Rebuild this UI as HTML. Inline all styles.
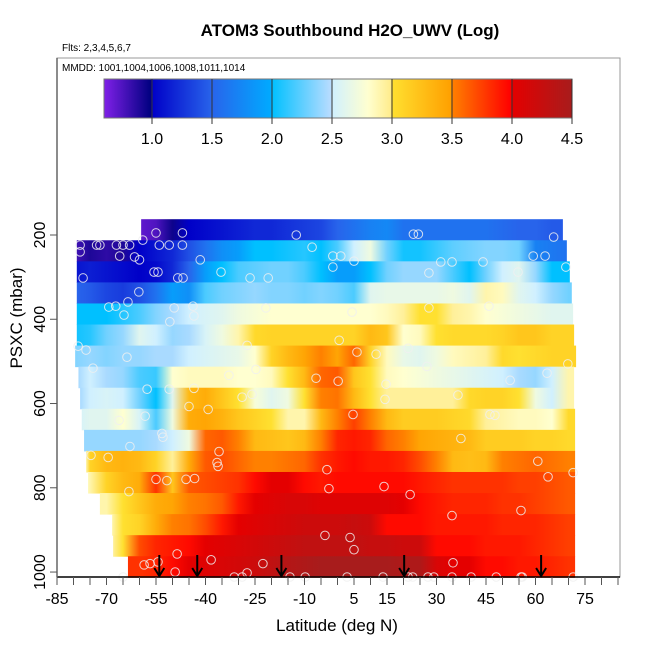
<!DOCTYPE html>
<html><head><meta charset="utf-8"><style>
body{margin:0;background:#fff;}
svg{display:block;font-family:"Liberation Sans",Arial,sans-serif;}
</style></head><body>
<svg id="chart" width="650" height="650" viewBox="0 0 650 650">
<defs id="defs"></defs>
<text x="350" y="36" text-anchor="middle" font-size="17" font-weight="bold">ATOM3 Southbound H2O_UWV (Log)</text>
<text x="62" y="51" font-size="10">Flts: 2,3,4,5,6,7</text>
<rect x="57" y="58" width="563" height="519" fill="none" stroke="#999" stroke-width="1"/>
<text x="62" y="71" font-size="10">MMDD: 1001,1004,1006,1008,1011,1014</text>
<g id="heat"></g>
<g id="pts"></g>
<g id="arrows"></g>
<g id="cbar"></g>
<g id="axes"></g>
<text x="337" y="631" text-anchor="middle" font-size="17">Latitude (deg N)</text>
<text transform="translate(22,318) rotate(-90)" text-anchor="middle" font-size="17">PSXC (mbar)</text>
</svg>
<script>
const lats=[-80,-75,-70,-65,-60,-55,-50,-45,-40,-35,-30,-25,-20,-15,-10,-5,0,5,10,15,20,25,30,35,40,45,50,55,60,65,70];
const rowPressure=[187.5,237.5,287.5,337.5,387.5,437.5,487.5,537.5,587.5,637.5,687.5,737.5,787.5,837.5,887.5,937.5,987.5];
const rowStart=[-59.5,-79,-79,-79,-79,-79,-79.5,-78.5,-78,-77.5,-76.8,-76.2,-75.6,-72,-68.3,-68,-63.5];
const rowEnd=[68.3,69.5,70.4,71,71.4,71.7,72.3,71.7,71.7,72,72,72,72,72,72,72,72];
const r0=[null,null,null,null,0.7,0.75,0.95,1.0,1.05,1.1,1.15,1.2,1.2,1.25,1.3,1.35,1.5,1.6,1.7,1.75,1.6,1.6,1.6,1.6,1.6,1.6,1.55,1.5,1.5,1.45,1.45];
const r1=[0.8,0.9,0.85,0.9,1.0,1.1,1.2,1.4,1.6,1.8,1.9,2.0,2.0,2.05,2.1,2.0,2.2,2.5,2.7,2.3,2.05,2.05,2.15,2.25,2.3,2.35,2.35,2.3,1.7,1.65,1.6];
const r2=[1.1,1.15,1.1,1.05,1.0,1.05,1.2,1.5,1.9,2.0,2.2,2.25,2.3,2.3,2.2,2.0,1.9,1.9,2.0,2.3,2.4,2.4,2.4,2.2,2.0,2.3,2.5,2.6,2.4,2.0,2.0];
const r3=[1.5,1.45,1.35,1.3,1.4,1.6,1.9,1.8,2.2,2.3,2.35,2.4,2.35,2.35,2.3,2.35,2.3,2.2,2.6,2.65,2.65,2.65,2.65,2.7,2.6,2.9,2.85,2.6,2.5,2.4,2.3];
const r4=[2.0,2.0,2.0,2.1,2.2,2.35,2.45,2.5,2.55,2.6,2.7,2.75,2.8,2.8,2.8,2.8,2.8,2.8,2.8,2.85,2.95,3.0,3.0,2.95,2.9,2.8,2.75,2.7,2.65,2.6,2.6];
const r5=[2.05,2.1,2.3,2.4,2.6,2.5,2.4,2.45,2.55,2.7,2.9,3.05,3.1,3.1,3.1,3.1,3.1,3.1,3.3,3.2,2.8,2.85,3.0,3.05,3.05,3.05,3.1,3.2,3.2,3.1,3.1];
const r6=[2.35,2.4,2.35,2.4,2.4,2.45,2.45,2.5,2.55,2.6,2.65,2.8,3.1,3.3,3.45,3.5,3.45,3.6,3.1,2.85,2.65,2.6,2.7,2.85,2.9,2.95,3.05,3.0,3.05,3.1,3.1];
const r7=[2.45,2.5,2.45,2.4,2.2,2.15,2.8,2.85,2.85,2.85,2.8,2.8,2.85,3.0,3.3,3.6,3.65,3.2,3.0,2.85,2.8,2.75,2.7,2.65,2.6,2.55,2.5,2.45,2.4,2.5,2.9];
const r8=[2.45,2.5,2.55,2.5,2.3,2.0,2.6,3.3,3.4,3.2,3.0,2.75,2.6,2.7,3.0,3.5,3.55,3.3,3.0,2.95,2.95,2.95,2.95,2.95,3.05,3.1,3.1,3.0,2.7,2.5,2.9];
const r9=[2.55,2.6,2.6,2.8,2.55,2.2,2.7,3.4,3.45,3.35,3.2,3.1,3.0,2.9,2.9,3.3,3.5,3.75,3.5,3.3,3.15,3.15,3.15,3.1,3.05,2.95,2.9,2.85,2.85,2.8,3.05];
const r10=[2.4,2.4,2.4,2.4,2.4,2.45,2.5,2.7,3.6,3.65,3.5,3.3,3.25,3.2,3.3,3.5,3.85,3.9,3.85,3.6,3.5,3.45,3.4,3.35,3.3,3.15,3.15,3.15,3.1,3.1,3.05];
const r11=[2.9,3.1,3.3,3.35,3.3,3.1,2.95,3.4,3.65,3.7,3.6,3.5,3.5,3.55,3.6,3.8,3.9,3.95,3.9,3.9,3.85,3.7,3.5,3.3,3.25,3.3,3.5,3.55,3.6,3.55,3.5];
const r12=[2.85,2.9,3.1,3.3,3.4,3.8,3.2,3.65,3.7,3.75,3.8,3.95,4.0,4.0,3.95,3.9,3.95,3.95,3.95,3.95,3.95,3.9,3.85,3.8,3.8,3.8,3.8,3.75,3.75,3.7,3.65];
const r13=[null,null,2.9,3.0,3.2,3.4,3.45,3.5,3.55,3.65,3.9,4.0,4.05,4.1,4.1,4.05,4.05,4.05,4.05,4.05,4.0,3.95,3.9,3.85,3.85,3.85,3.8,3.8,3.75,3.7,3.65];
const r14=[null,null,2.9,3.0,3.1,3.4,3.5,3.55,3.7,3.9,4.0,4.05,4.1,4.15,4.2,4.2,4.2,4.25,4.2,3.95,3.95,3.95,3.9,3.9,3.9,3.9,3.85,3.85,3.85,3.8,3.75];
const r15=[null,null,2.95,3.0,3.7,3.85,3.9,3.95,4.0,4.05,4.1,4.15,4.2,4.25,4.3,4.3,4.3,4.3,4.25,4.25,4.2,4.2,3.95,3.95,3.95,3.9,3.9,3.9,3.85,3.8,3.75];
const r16=[null,null,null,3.8,3.8,3.85,3.95,4.0,4.05,4.1,4.15,4.2,4.3,4.4,4.45,4.5,4.5,4.5,4.5,4.5,4.45,4.45,4.1,4.0,4.0,3.95,3.95,3.9,3.9,3.85,3.8];
const rows=[r0,r1,r2,r3,r4,r5,r6,r7,r8,r9,r10,r11,r12,r13,r14,r15,r16];
const ptLat=[-59,-55,-47,-12.5,65.5,23,24.5,-78,-73,-72,-67,-65,-63,-54,-51,-47,-66,-61.5,-60,-41.6,-7.7,-1.4,1,59.3,62.9,-78,-55.6,-54.4,-35.3,-1.4,5,31.3,34.7,44.1,69.2,-77.1,-48.4,-46.8,-26.5,-21,27.7,54.7,-60.2,-69.3,-67.2,-63.5,-49.5,-43.8,-64.7,-43.5,-50.8,-21.7,4.4,27.7,45.9,-78.6,-76.2,-63.8,-27.4,0.5,5.9,21.4,69.8,-74.1,-32.9,-24.7,-6.5,11.7,27.1,52.3,63.5,-57.7,-51,-43.5,0.2,36.5,-58.3,-53.2,-52.9,-39.2,-45,-28.9,-25.9,4.7,14.4,14.7,47.7,46.2,-66.2,-74.7,-62.9,-69.5,-36.5,-35.9,-45.9,-55,-36.2,-2.6,22,63.8,14.1,37.4,-3.2,60.7,55.6,71.4,-51.7,-43.3,-63.2,-58.6,-56.8,-54.4,-48.6,-38.3,-27.4,-22.6,-49.2,-65,2.9,27.4,35,34.7,-3.8,3.8,5,22.8,21.4,13.8,55.6,29.2,34.7,40.5,48.1,56,71.4,-28.9,-14.4,-9.8,-31.3];
const ptP=[212,195,195,200,205,198,198,224,224,224,224,224,224,224,224,224,250,252,259,259,229,250,250,250,250,240,288,288,288,276,262,264,264,264,276,302,302,302,302,302,290,288,335,371,369,359,373,369,390,392,406,373,383,373,369,464,473,490,462,450,478,469,506,516,533,519,540,483,512,545,528,566,566,564,547,580,630,671,680,614,607,585,578,626,590,554,628,626,640,723,702,728,740,714,780,780,749,802,816,774,797,683,757,737,854,764,783,778,809,983,980,976,957,971,1002,980,1000,1021,1021,1026,978,866,913,918,947,1016,1014,1016,1016,1023,1014,1016,1035,1040,1040,1031,1014,1040,1028,1019,1014,1028];
const arrowLat=[-54,-42.5,-17,20.2,61.7];
const cbTicks=[1.0,1.5,2.0,2.5,3.0,3.5,4.0,4.5];
const xTickLabels=[-85,-70,-55,-40,-25,-10,5,15,30,45,60,75];
const yTickLabels=[200,400,600,800,1000];

const NS='http://www.w3.org/2000/svg';
const xS=lat=>337.5+lat*3.3;
const yS=p=>235+(p-200)*0.4213;
const CBMIN=0.6,CBMAX=4.5;
const stops=[[0.6,[128,32,232]],[0.99,[0,0,128]],[1.0,[0,0,200]],[1.5,[40,100,235]],[1.99,[0,170,255]],[2.0,[0,192,255]],[2.49,[184,220,255]],[2.5,[208,240,255]],[2.8,[255,255,208]],[2.99,[255,236,140]],[3.0,[255,224,48]],[3.49,[255,160,0]],[3.5,[255,128,0]],[3.99,[255,0,0]],[4.0,[228,0,0]],[4.5,[168,28,28]]];
function col(v){
  if(v<=stops[0][0])return 'rgb('+stops[0][1]+')';
  for(let i=1;i<stops.length;i++){
    if(v<=stops[i][0]){const a=stops[i-1],b=stops[i];const t=(v-a[0])/(b[0]-a[0]);
      return 'rgb('+a[1].map((c,k)=>Math.round(c+(b[1][k]-c)*t)).join(',')+')';}
  }
  return 'rgb('+stops[stops.length-1][1]+')';
}
const defs=document.getElementById('defs');
const heat=document.getElementById('heat');
rows.forEach((vals,ri)=>{
  const x0=xS(rowStart[ri]),x1=xS(rowEnd[ri]);
  const g=document.createElementNS(NS,'linearGradient');
  g.setAttribute('id','g'+ri);g.setAttribute('gradientUnits','userSpaceOnUse');
  g.setAttribute('x1',x0);g.setAttribute('x2',x1);g.setAttribute('y1',0);g.setAttribute('y2',0);
  vals.forEach((v,i)=>{ if(v===null)return;
    const s=document.createElementNS(NS,'stop');
    let off=(xS(lats[i])-x0)/(x1-x0);off=Math.max(0,Math.min(1,off));
    s.setAttribute('offset',off);s.setAttribute('stop-color',col(v));g.appendChild(s);});
  defs.appendChild(g);
  const p=rowPressure[ri];
  const y0=yS(p-25),y1=yS(p+25);
  const r=document.createElementNS(NS,'rect');
  r.setAttribute('x',x0);r.setAttribute('y',y0);r.setAttribute('width',x1-x0);r.setAttribute('height',y1-y0+0.5);
  r.setAttribute('fill','url(#g'+ri+')');
  
  
  heat.appendChild(r);
});
const pts=document.getElementById('pts');
ptLat.forEach((la,i)=>{
  const c=document.createElementNS(NS,'circle');
  c.setAttribute('cx',xS(la));c.setAttribute('cy',Math.min(yS(ptP[i]),577));c.setAttribute('r',4.3);
  c.setAttribute('fill','none');c.setAttribute('stroke','rgba(240,240,240,0.85)');c.setAttribute('stroke-width','1');
  
  
  pts.appendChild(c);
});
const arr=document.getElementById('arrows');
arrowLat.forEach(la=>{
  const x=xS(la);
  const g=document.createElementNS(NS,'g');
  
  
  g.innerHTML='<line x1="'+x+'" y1="555" x2="'+x+'" y2="576" stroke="#000" stroke-width="2"/><polyline points="'+(x-5)+',568 '+x+',576 '+(x+5)+',568" fill="none" stroke="#000" stroke-width="2"/>';
  arr.appendChild(g);
});
// colorbar
const cb=document.getElementById('cbar');
const cbX=v=>104+(v-CBMIN)*(468/(CBMAX-CBMIN));
const cg=document.createElementNS(NS,'linearGradient');
cg.setAttribute('id','cbg');
stops.forEach(s=>{const st=document.createElementNS(NS,'stop');st.setAttribute('offset',(s[0]-CBMIN)/(CBMAX-CBMIN));st.setAttribute('stop-color','rgb('+s[1]+')');cg.appendChild(st);});
defs.appendChild(cg);
let h='<rect x="104" y="79" width="468" height="39" fill="url(#cbg)" stroke="#777" stroke-width="1"/>';
cbTicks.forEach(v=>{const x=cbX(v);h+='<line x1="'+x+'" y1="79" x2="'+x+'" y2="124" stroke="#333" stroke-width="1"/><text x="'+x+'" y="144" text-anchor="middle" font-size="16">'+v.toFixed(1)+'</text>';});
cb.innerHTML=h;
// axes
const ax=document.getElementById('axes');
let a='<line x1="57" y1="577" x2="620" y2="577" stroke="#000" stroke-width="1.5"/>';
for(let la=-85;la<=85;la+=5){const x=xS(la);a+='<line x1="'+x+'" y1="577" x2="'+x+'" y2="585" stroke="#555" stroke-width="1"/>';}
xTickLabels.forEach(v=>{a+='<text x="'+xS(v)+'" y="604" text-anchor="middle" font-size="16">'+v+'</text>';});
a+='<line x1="57" y1="58" x2="57" y2="577" stroke="#666" stroke-width="1.5"/>';
yTickLabels.forEach(v=>{const y=yS(v);a+='<line x1="50" y1="'+y+'" x2="57" y2="'+y+'" stroke="#555" stroke-width="1"/><text transform="translate(45,'+y+') rotate(-90)" text-anchor="middle" font-size="16">'+v+'</text>';});
ax.innerHTML=a;
</script>
</body></html>
